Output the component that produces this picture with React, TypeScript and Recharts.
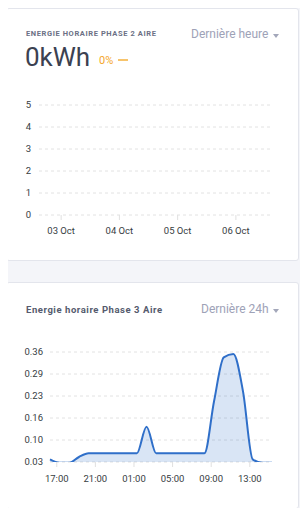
import React from "react";
import {
  LineChart,
  Line,
  AreaChart,
  Area,
  XAxis,
  YAxis,
  CartesianGrid,
} from "recharts";

// Phase 2 : aucune donnée sur la période
const phase2Days = [3, 4, 5, 6];
const phase2Values: (number | null)[] = [null, null, null, null];
const phase2DayLabels = ["03 Oct", "04 Oct", "05 Oct", "06 Oct"];
const phase2YTicks = [0, 1, 2, 3, 4, 5];

// Phase 3 : énergie horaire sur 24h (heures depuis 00:00 du premier jour)
const phase3Hours = [
  16.3, 17.3, 18.3, 19.3, 20.3, 21.3, 22.3, 23.3, 24.3, 25.3, 26.3, 27.3,
  28.3, 29.3, 30.3, 31.3, 32.3, 33.3, 34.3, 35.3, 36.3, 37.3, 38.3, 39.3,
];
const phase3Values = [
  0.038, 0.028, 0.028, 0.045, 0.056, 0.056, 0.056, 0.056, 0.056, 0.056, 0.136, 0.056,
  0.056, 0.056, 0.056, 0.056, 0.056, 0.213, 0.344, 0.354, 0.241, 0.038, 0.028, 0.028,
];
const phase3XTicks = [17, 21, 25, 29, 33, 37];
const phase3XLabels = ["17:00", "21:00", "01:00", "05:00", "09:00", "13:00"];
const phase3YTicks = [0.03, 0.096, 0.162, 0.228, 0.294, 0.36];

const phase2Data = phase2Days.map((d, i) => ({ day: d, value: phase2Values[i] }));
const phase3Data = phase3Hours.map((h, i) => ({ hour: h, value: phase3Values[i] }));

const font = "Roboto, 'Noto Sans', sans-serif";
const tickStyle = { fill: "#373d3f", fontSize: 9.5, fontFamily: font };

const card: React.CSSProperties = {
  position: "absolute",
  left: 6,
  width: 291,
  background: "#ffffff",
  border: "1px solid #e3e5ec",
  borderRadius: 3,
};

const Caret = ({ top }: { top: number }) => (
  <div
    style={{
      position: "absolute",
      left: 273,
      top,
      width: 0,
      height: 0,
      borderLeft: "3.5px solid transparent",
      borderRight: "3.5px solid transparent",
      borderTop: "4px solid #a3a7ba",
    }}
  />
);

const App = () => {
  return (
    <div
      style={{
        position: "relative",
        margin: -8,
        width: 308,
        height: 516,
        background: "#f4f5f9",
        overflow: "hidden",
        fontFamily: font,
      }}
    >
      {/* Carte 1 */}
      <div style={{ ...card, top: 8, height: 251 }} />
      <div
        style={{
          position: "absolute",
          left: 26,
          top: 29,
          fontSize: 7.5,
          fontWeight: 700,
          letterSpacing: 0.6,
          color: "#6b7085",
          whiteSpace: "nowrap",
        }}
      >
        ENERGIE HORAIRE PHASE 2 AIRE
      </div>
      <div
        style={{ position: "absolute", left: 191, top: 27, fontSize: 12, color: "#9ea2b7", whiteSpace: "nowrap" }}
      >
        Dernière heure
      </div>
      <Caret top={34} />
      <div
        style={{ position: "absolute", left: 25, top: 42, fontSize: 26, color: "#3b4151", whiteSpace: "nowrap" }}
      >
        0kWh
      </div>
      <div
        style={{ position: "absolute", left: 99, top: 54, fontSize: 11, color: "#f4a62a", whiteSpace: "nowrap" }}
      >
        0%
      </div>
      <div
        style={{ position: "absolute", left: 118, top: 59, width: 10, height: 2, background: "#f7c46c" }}
      />
      <div style={{ position: "absolute", left: 0, top: 0 }}>
        <LineChart
          width={308}
          height={260}
          data={phase2Data}
          margin={{ top: 105, right: 36, left: 0, bottom: 15 }}
        >
          <CartesianGrid vertical={false} stroke="#e2e2e2" strokeDasharray="3 3" />
          <XAxis
            dataKey="day"
            type="number"
            domain={[2.62, 6.62]}
            allowDataOverflow
            ticks={phase2Days}
            tickFormatter={(_v, i) => phase2DayLabels[i]}
            axisLine={false}
            tickLine={{ stroke: "#e0e0e0" }}
            tickSize={5}
            tickMargin={7}
            height={30}
            tick={tickStyle}
            interval={0}
          />
          <YAxis
            type="number"
            domain={[0, 5]}
            allowDataOverflow
            ticks={phase2YTicks}
            axisLine={false}
            tickLine={false}
            tickSize={0}
            tickMargin={8}
            width={39}
            tick={tickStyle}
            interval={0}
          />
          <Line
            dataKey="value"
            stroke="#2f6fc9"
            strokeWidth={2}
            dot={false}
            isAnimationActive={false}
          />
        </LineChart>
      </div>

      {/* Carte 2 */}
      <div style={{ ...card, top: 282, height: 225 }} />
      <div
        style={{
          position: "absolute",
          left: 26,
          top: 304,
          fontSize: 9.5,
          fontWeight: 700,
          letterSpacing: 0.55,
          color: "#555b6e",
          whiteSpace: "nowrap",
        }}
      >
        Energie horaire Phase 3 Aire
      </div>
      <div
        style={{ position: "absolute", left: 201, top: 302, fontSize: 12, color: "#9ea2b7", whiteSpace: "nowrap" }}
      >
        Dernière 24h
      </div>
      <Caret top={309} />
      <div style={{ position: "absolute", left: 0, top: 300 }}>
        <AreaChart
          width={308}
          height={200}
          data={phase3Data}
          margin={{ top: 52, right: 36, left: 0, bottom: 8 }}
        >
          <CartesianGrid vertical={false} stroke="#e2e2e2" strokeDasharray="3 3" />
          <XAxis
            dataKey="hour"
            type="number"
            domain={[16.3, 39.3]}
            ticks={phase3XTicks}
            tickFormatter={(_v, i) => phase3XLabels[i]}
            axisLine={false}
            tickLine={{ stroke: "#e0e0e0" }}
            tickSize={5}
            tickMargin={8}
            height={30}
            tick={tickStyle}
            interval={0}
          />
          <YAxis
            type="number"
            domain={[0.03, 0.36]}
            ticks={phase3YTicks}
            tickFormatter={(v: number) => v.toFixed(2)}
            allowDataOverflow
            axisLine={false}
            tickLine={false}
            tickSize={0}
            tickMargin={7}
            width={50}
            tick={tickStyle}
            interval={0}
          />
          <Area
            type="monotone"
            dataKey="value"
            stroke="#2f6fc9"
            strokeWidth={2}
            fill="#2f6fc9"
            fillOpacity={0.18}
            dot={false}
            isAnimationActive={false}
          />
        </AreaChart>
      </div>
    </div>
  );
};

export default App;
